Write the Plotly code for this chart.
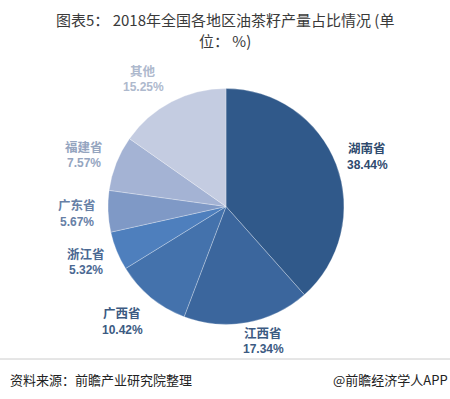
import plotly.graph_objects as go

regions = ["湖南省", "江西省", "广西省", "浙江省", "广东省", "福建省", "其他"]
shares = [38.44, 17.34, 10.42, 5.32, 5.67, 7.57, 15.25]
share_labels = ["38.44%", "17.34%", "10.42%", "5.32%", "5.67%", "7.57%", "15.25%"]
title_lines = ["图表5： 2018年全国各地区油茶籽产量占比情况 (单", "位： %)"]

slice_colors = ["#30598A", "#3B669D", "#4472AC", "#4E7FBD", "#7F99C6", "#A4B3D4", "#C4CCE1"]
label_colors = ["#2F4A6E", "#3C5A82", "#3C5A82", "#4A6892", "#6780A6", "#95A5BF", "#AEB9CD"]
# label anchor positions (px): name centre y, percent centre y
label_pos = [(367, 147, 165), (263, 332, 349), (122, 312, 330), (86, 253, 270),
             (77, 204, 222), (84, 146, 163), (143, 70, 87)]

W, H = 450, 399

fig = go.Figure()
fig.add_trace(go.Pie(
    labels=regions,
    values=shares,
    sort=False,
    direction="clockwise",
    rotation=0,
    marker=dict(colors=slice_colors, line=dict(color="rgba(255,255,255,0.35)", width=0.8)),
    textinfo="none",
    hoverinfo="label+percent",
    showlegend=False,
    domain=dict(x=[108 / W, 344 / W], y=[1 - 325 / H, 1 - 88 / H]),
))

annotations = []
for name, pct, col, (px, ny, py) in zip(regions, share_labels, label_colors, label_pos):
    annotations.append(dict(
        x=px / W, y=1 - ny / H, xref="paper", yref="paper",
        xanchor="center", yanchor="middle",
        text=f"<b>{name}</b>", showarrow=False,
        font=dict(size=12.5, color=col, family="Noto Sans CJK SC"),
    ))
    annotations.append(dict(
        x=px / W, y=1 - py / H, xref="paper", yref="paper",
        xanchor="center", yanchor="middle",
        text=f"<b>{pct}</b>", showarrow=False,
        font=dict(size=12, color=col, family="Liberation Sans"),
    ))

for line, ty in zip(title_lines, [19, 41]):
    annotations.append(dict(
        x=0.5, y=1 - ty / H, xref="paper", yref="paper",
        xanchor="center", yanchor="middle",
        text=line, showarrow=False, align="center",
        font=dict(size=15, color="#3A3A3A", family="Noto Sans CJK SC"),
    ))
annotations.append(dict(
    x=8 / W, y=1 - 379 / H, xref="paper", yref="paper", xanchor="left", yanchor="middle",
    text="资料来源：前瞻产业研究院整理", showarrow=False,
    font=dict(size=13, color="#222222", family="Noto Sans CJK SC"),
))
annotations.append(dict(
    x=1, y=1 - 379 / H, xref="paper", yref="paper", xanchor="right", yanchor="middle",
    text="@前瞻经济学人APP", showarrow=False,
    font=dict(size=13, color="#222222", family="Noto Sans CJK SC"),
))

fig.update_layout(
    width=W, height=H,
    margin=dict(l=0, r=0, t=0, b=0),
    paper_bgcolor="white", plot_bgcolor="white",
    annotations=annotations,
    shapes=[dict(type="line", xref="paper", yref="paper",
                 x0=0, x1=1, y0=1 - 359 / H, y1=1 - 359 / H,
                 line=dict(color="#CCCCCC", width=1))],
)

fig.write_html("out.html", config={"displayModeBar": False},
               post_script="document.body.style.margin='0';document.body.style.overflow='hidden';")
